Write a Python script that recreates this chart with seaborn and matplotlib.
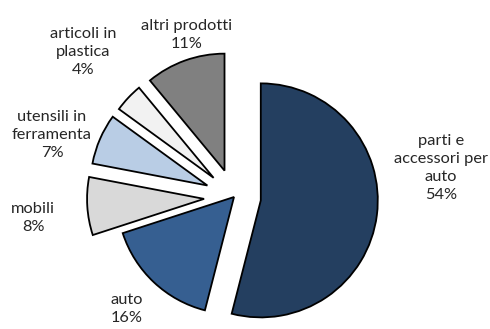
import matplotlib
matplotlib.use("Agg")
import matplotlib.pyplot as plt
import seaborn as sns

# Dati
categorie = ["parti e\naccessori per\nauto", "auto", "mobili",
             "utensili in\nferramenta", "articoli in\nplastica", "altri prodotti"]
percentuali = [54, 16, 8, 7, 4, 11]
colori = ["#243F60", "#365F91", "#D9D9D9", "#B9CDE5", "#F2F2F2", "#808080"]

sns.set_theme(style="white")
plt.rcParams["font.family"] = ["Lato", "DejaVu Sans"]

W, H = 490, 329
fig = plt.figure(figsize=(W / 100, H / 100), dpi=100)
ax = fig.add_axes([0, 0, 1, 1])

centro = (234, H - 197)
raggio = 117
esplodi = [27, 0, 30, 29, 28, 28]

ax.pie(percentuali, colors=colori, startangle=90, counterclock=False,
       center=centro, radius=raggio, explode=esplodi,
       wedgeprops=dict(edgecolor="black", linewidth=1.3), frame=True)
ax.set_xlim(0, W)
ax.set_ylim(0, H)
ax.set_aspect("equal")
ax.axis("off")

# posizioni delle etichette (pixel)
pos_etichette = [(441, 168), (127, 309), (33, 218), (52, 135), (83, 52), (187, 35)]
for nome, p, (px, py) in zip(categorie, percentuali, pos_etichette):
    ax.text(px, H - py, f"{nome}\n{p}%", ha="center", va="center",
            fontsize=11.8, color="#262626", linespacing=1.36)

fig.savefig("out.png", dpi=100)
